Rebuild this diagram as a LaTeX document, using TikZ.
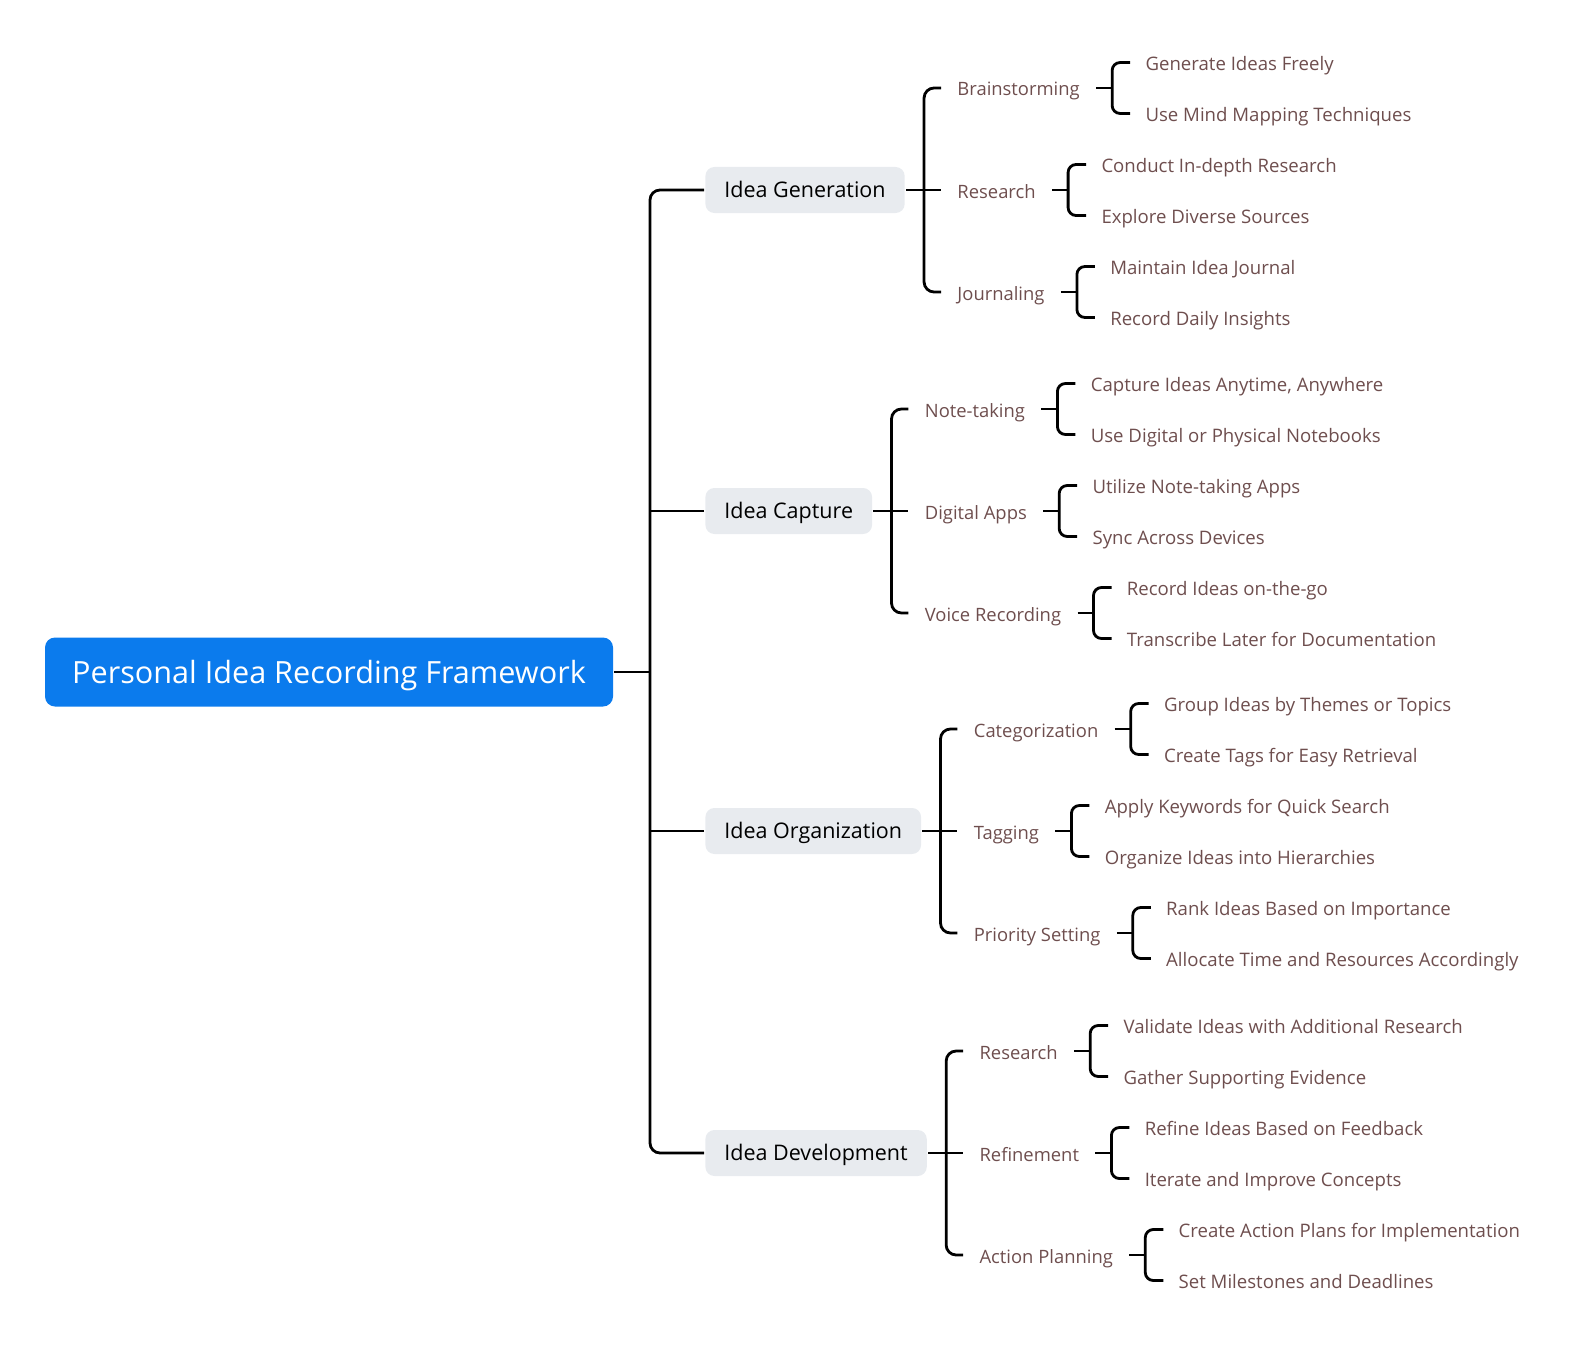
\documentclass[tikz,border=0pt]{standalone}
\usepackage{fontspec}
\setmainfont{Open Sans}
\usetikzlibrary{positioning}
\definecolor{rootblue}{RGB}{11,123,237}
\definecolor{topicgray}{RGB}{232,235,239}
\definecolor{leafbrown}{RGB}{110,78,78}
\newcommand{\twig}[3]{%
  \draw (#1.east) -- ++(17,0);
  \draw[rounded corners=8pt] (#2.west) -- ++(-18,0) |- (#3.west);}
\newcommand{\leafpair}[3]{%
  \node[leaf, above right=25.5pt and 34pt of #1.east, anchor=west] (#1a) {#2};
  \node[leaf, below right=25.5pt and 34pt of #1.east, anchor=west] (#1b) {#3};
  \twig{#1}{#1a}{#1b}}

\begin{document}
\begin{tikzpicture}[x=1pt, y=-1pt, line width=2.8pt,
  rootbox/.style={fill=rootblue, text=white, rounded corners=10pt, minimum width=568pt, minimum height=69pt, text height=26pt, text depth=3pt, font=\fontsize{30.6}{36}\selectfont},
  topicbox/.style={fill=topicgray, rounded corners=9pt, minimum height=46pt, inner xsep=19pt, text height=17pt, text depth=3pt, font=\fontsize{21.5}{25}\selectfont},
  subtopic/.style={text=leafbrown, inner xsep=15pt, inner ysep=0pt, text height=16pt, text depth=0pt, font=\fontsize{18.4}{22}\selectfont},
  leaf/.style={subtopic, inner xsep=14pt, font=\fontsize{18.6}{22}\selectfont}]
\useasboundingbox (0,0) rectangle (1584,1359);
% root and main topics
\node[rootbox] (root) at (329,672) {Personal Idea Recording Framework};
\node[topicbox, anchor=west] (gen) at (704,190) {Idea Generation};
\node[topicbox, anchor=west] (cap) at (704,511) {Idea Capture};
\node[topicbox, anchor=west] (org) at (704,831) {Idea Organization};
\node[topicbox, anchor=west] (dev) at (704,1153) {Idea Development};
\coordinate (trunk) at ([xshift=-54pt]gen.west);
\draw (root.east) -- (root.east -| trunk);
\draw[rounded corners=10pt] (gen.west) -- (trunk) |- (dev.west);
\draw (cap.west) -- (cap.west -| trunk);
\draw (org.west) -- (org.west -| trunk);
% Idea Generation
\node[subtopic, right=35pt of gen] (gres) {Research};
\node[subtopic, above=102pt of gres.west, anchor=west] (brain) {Brainstorming};
\node[subtopic, below=102pt of gres.west, anchor=west] (journ) {Journaling};
\draw (gen.east) -- (gres.west);
\draw[rounded corners=10pt] (brain.west) -- ++(-17,0) |- (journ.west);
\leafpair{brain}{Generate Ideas Freely}{Use Mind Mapping Techniques}
\leafpair{gres}{Conduct In-depth Research}{Explore Diverse Sources}
\leafpair{journ}{Maintain Idea Journal}{Record Daily Insights}
% Idea Capture
\node[subtopic, right=35pt of cap] (apps) {Digital Apps};
\node[subtopic, above=102pt of apps.west, anchor=west] (note) {Note-taking};
\node[subtopic, below=102pt of apps.west, anchor=west] (voice) {Voice Recording};
\draw (cap.east) -- (apps.west);
\draw[rounded corners=10pt] (note.west) -- ++(-17,0) |- (voice.west);
\leafpair{note}{Capture Ideas Anytime, Anywhere}{Use Digital or Physical Notebooks}
\leafpair{apps}{Utilize Note-taking Apps}{Sync Across Devices}
\leafpair{voice}{Record Ideas on-the-go}{Transcribe Later for Documentation}
% Idea Organization
\node[subtopic, right=35pt of org] (tagg) {Tagging};
\node[subtopic, above=102pt of tagg.west, anchor=west] (categ) {Categorization};
\node[subtopic, below=102pt of tagg.west, anchor=west] (prio) {Priority Setting};
\draw (org.east) -- (tagg.west);
\draw[rounded corners=10pt] (categ.west) -- ++(-17,0) |- (prio.west);
\leafpair{categ}{Group Ideas by Themes or Topics}{Create Tags for Easy Retrieval}
\leafpair{tagg}{Apply Keywords for Quick Search}{Organize Ideas into Hierarchies}
\leafpair{prio}{Rank Ideas Based on Importance}{Allocate Time and Resources Accordingly}
% Idea Development
\node[subtopic, right=35pt of dev] (refine) {Refinement};
\node[subtopic, above=102pt of refine.west, anchor=west] (dres) {Research};
\node[subtopic, below=102pt of refine.west, anchor=west] (action) {Action Planning};
\draw (dev.east) -- (refine.west);
\draw[rounded corners=10pt] (dres.west) -- ++(-17,0) |- (action.west);
\leafpair{dres}{Validate Ideas with Additional Research}{Gather Supporting Evidence}
\leafpair{refine}{Refine Ideas Based on Feedback}{Iterate and Improve Concepts}
\leafpair{action}{Create Action Plans for Implementation}{Set Milestones and Deadlines}
\end{tikzpicture}
\end{document}
